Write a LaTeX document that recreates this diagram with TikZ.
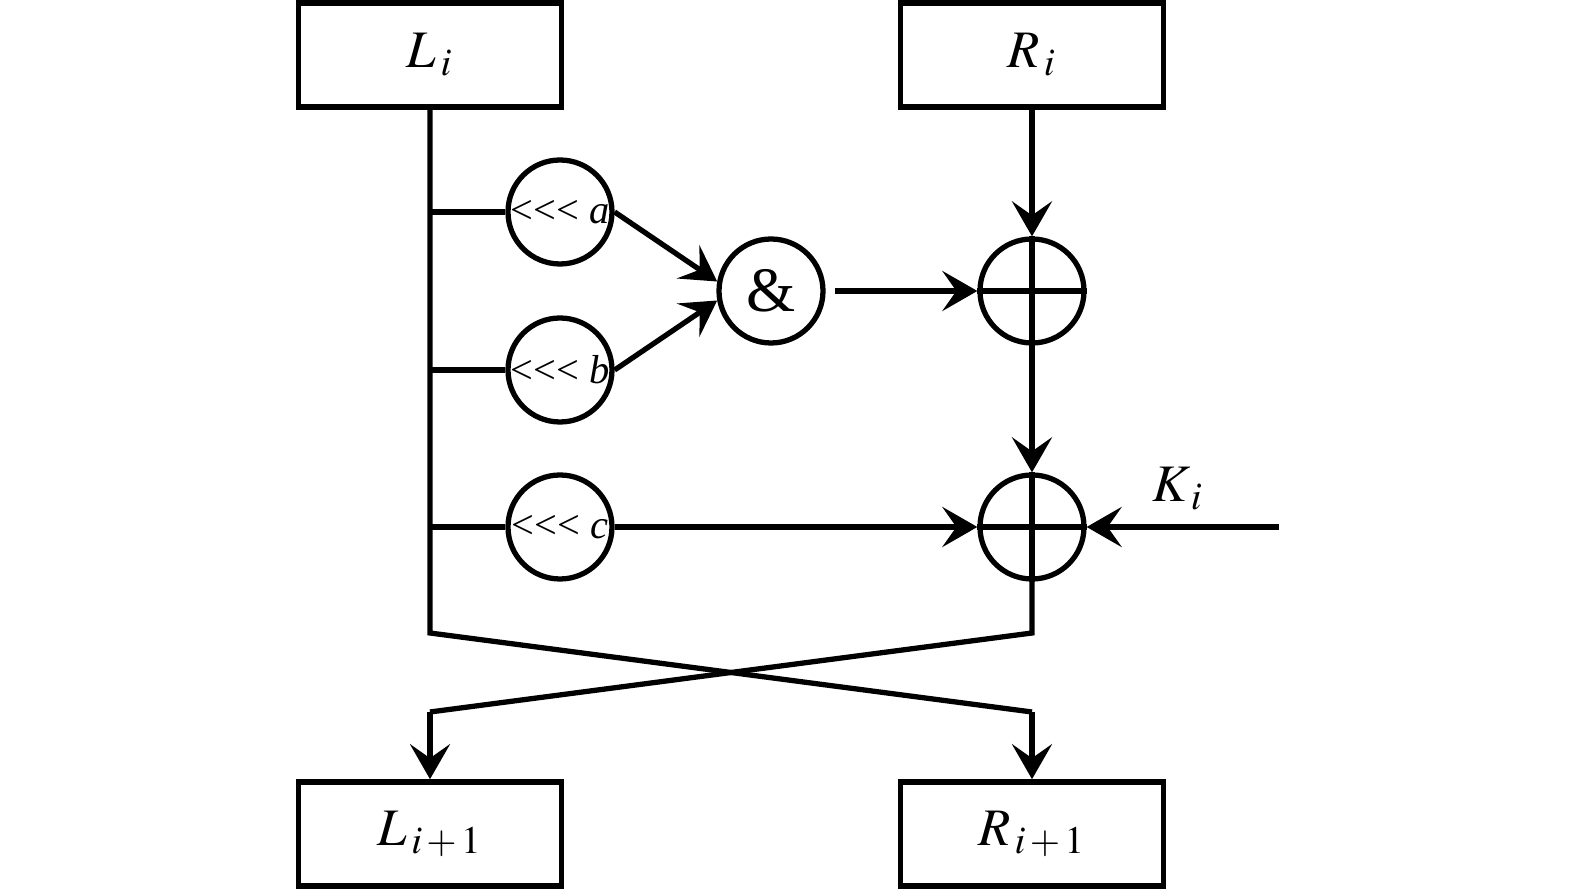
\documentclass[tikz,border=0pt]{standalone}
\usepackage{mathptmx}
\usepackage{fontspec}
\setmainfont{Liberation Serif}
\usetikzlibrary{arrows.meta}

\begin{document}
\begin{tikzpicture}[
    reg/.style={draw, line width=1.6pt, minimum width=2.63cm, minimum height=1.04cm,
      inner sep=0pt, font=\fontsize{15}{17}\selectfont},
    op/.style={draw, circle, line width=1.5pt, minimum size=1.04cm, inner sep=0pt},
    rot/.style={op, font=\fontsize{11.5}{13}\selectfont},
    wire/.style={line width=1.5pt},
    flow/.style={wire, -{Stealth[length=3.5mm, width=4mm, inset=1.4mm]}},
  ]
  \useasboundingbox (0,0) rectangle (15.75,-8.9);

  % ------------------------------------------------------------ registers
  \node[reg] (li) at (4.30,-0.55) {$L_{\,i}$};
  \node[reg] (ri) at (10.32,-0.55) {$R_{\,i}$};
  \node[reg] (lnext) at (4.30,-8.34) {$L_{\,i\,+\,1}$};
  \node[reg] (rnext) at (10.32,-8.34) {$R_{\,i\,+\,1}$};

  % ------------------------------------------------------------ round function
  \node[rot] (rota) at (5.60,-2.12) {<{}<{}< \textit{a}};
  \node[rot] (rotb) at (5.60,-3.70) {<{}<{}< \textit{b}};
  \node[rot] (rotc) at (5.60,-5.27) {<{}<{}< \textit{c}};
  \node[op, font=\fontsize{18}{20}\selectfont] (and) at (7.71,-2.91) {\&};
  \node[op] (xor1) at (10.32,-2.91) {};
  \node[op] (xor2) at (10.32,-5.27) {};
  \draw[wire] (xor1.north) -- (xor1.south) (xor1.west) -- (xor1.east);
  \draw[wire] (xor2.north) -- (xor2.south) (xor2.west) -- (xor2.east);

  \coordinate (kin) at (12.79,-5.27);
  \node[font=\fontsize{15}{17}\selectfont] (ki) at (11.78,-4.89) {$K_{\,i}$};

  % ------------------------------------------------------------ swap points
  \coordinate (lbend) at (4.30,-6.33);
  \coordinate (lcross) at (10.32,-7.12);
  \coordinate (rbend) at (10.32,-6.33);
  \coordinate (rcross) at (4.30,-7.12);

  % ------------------------------------------------------------ arrows
  \draw[wire] (li.south) -- (lbend) -- (lcross);
  \draw[flow] (lcross) -- (rnext.north);
  \draw[wire] (xor2.south) -- (rbend) -- (rcross);
  \draw[flow] (rcross) -- (lnext.north);

  \draw[wire] (li.south |- rota) -- (rota);
  \draw[wire] (li.south |- rotb) -- (rotb);
  \draw[wire] (li.south |- rotc) -- (rotc);

  \draw[flow] (rota.east) -- (and.170);
  \draw[flow] (rotb.east) -- (and.190);
  \draw[flow, shorten <=0.9mm] (and) -- (xor1);
  \draw[flow] (ri.south) -- (xor1.north);
  \draw[flow] (xor1.south) -- (xor2.north);
  \draw[flow] (rotc) -- (xor2.west);
  \draw[flow] (kin) -- (xor2.east);
\end{tikzpicture}
\end{document}
